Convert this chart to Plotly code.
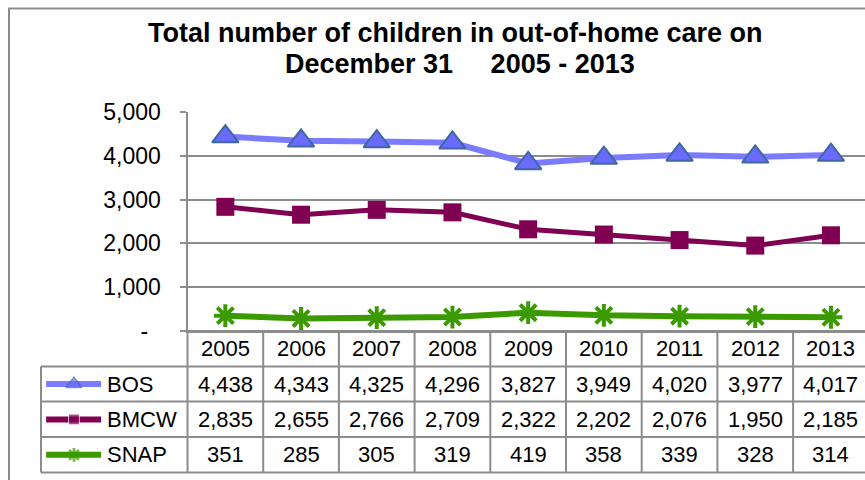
import plotly.graph_objects as go

# data
years = ["2005", "2006", "2007", "2008", "2009", "2010", "2011", "2012", "2013"]
bos = [4438, 4343, 4325, 4296, 3827, 3949, 4020, 3977, 4017]
bmcw = [2835, 2655, 2766, 2709, 2322, 2202, 2076, 1950, 2185]
snap = [351, 285, 305, 319, 419, 358, 339, 328, 314]
series_names = ["BOS", "BMCW", "SNAP"]
y_ticks = [0, 1000, 2000, 3000, 4000, 5000]
y_tick_labels = ["-\u00a0\u00a0", "1,000", "2,000", "3,000", "4,000", "5,000"]
title_lines = ["Total number of children in out-of-home care on",
               "December 31\u00a0\u00a0\u00a0\u00a0 2005 - 2013"]

W, H = 865, 480
GRID = "#8c8c8c"
FONT = "Liberation Sans, Arial, sans-serif"


def px(x):
    return x / W


def py(y):
    return 1 - y / H


styles = {
    "BOS": dict(line=dict(color="#7b7bff", width=6),
                marker=dict(symbol="triangle-up", size=23, color="#6a6aff",
                            line=dict(color="#3f67a0", width=2))),
    "BMCW": dict(line=dict(color="#800052", width=5),
                 marker=dict(symbol="square", size=18, color="#800052")),
    "SNAP": dict(line=dict(color="#3a9a00", width=6),
                 marker=dict(symbol="asterisk-open", size=19, color="#3a9a00",
                             line=dict(color="#3a9a00", width=4))),
}
values = {"BOS": bos, "BMCW": bmcw, "SNAP": snap}

fig = go.Figure()

# main lines
for name in series_names:
    fig.add_trace(go.Scatter(x=years, y=values[name], mode="lines+markers",
                             name=name, showlegend=False, cliponaxis=False,
                             **styles[name]))

# legend keys in the table's first column
for row, name in enumerate(series_names, start=1):
    st = styles[name]
    mk = dict(st["marker"])
    mk["size"] = [0, mk["size"] * 0.6, 0]
    if "line" in mk:
        mk["line"] = dict(mk["line"], width=mk["line"]["width"] * 0.7)
    fig.add_trace(go.Scatter(x=[0.035, 0.225, 0.41], y=[row + 0.5] * 3,
                             mode="lines+markers", xaxis="x3", yaxis="y2",
                             showlegend=False, hoverinfo="skip",
                             line=dict(color=st["line"]["color"], width=6),
                             marker=mk))

table_top, table_bot = 331, 472.5
row_lines = [331, 366.5, 401.5, 437, 472.5]
col_w = 75.7
ax_left = 187.5

fig.update_layout(
    template="none",
    width=W, height=H, autosize=False, showlegend=False,
    margin=dict(l=0, r=0, t=0, b=0, pad=0),
    paper_bgcolor="white", plot_bgcolor="white",
    font=dict(family=FONT, size=22, color="black"),
    xaxis=dict(domain=[px(ax_left), 1],
               range=[-0.5, -0.5 + (W - ax_left) / col_w],
               type="category", automargin=False,
               showticklabels=False, showgrid=False, zeroline=False,
               showline=True, linecolor=GRID, linewidth=2, ticks=""),
    yaxis=dict(domain=[py(331), py(112)], range=[0, 5000], automargin=False,
               tickvals=y_ticks, ticktext=y_tick_labels,
               tickfont=dict(size=23),
               showgrid=True, gridcolor=GRID, gridwidth=2, zeroline=False,
               showline=True, linecolor=GRID, linewidth=2,
               ticks="outside", ticklen=6, tickcolor=GRID, tickwidth=2,
               ticklabelstandoff=14),
    xaxis3=dict(domain=[px(41), px(ax_left)], range=[0, 1], visible=False,
                anchor="y2", automargin=False),
    yaxis2=dict(domain=[py(table_bot), py(table_top)], range=[4, 0],
                visible=False, anchor="x3", automargin=False),
)

shapes = []
# outer chart border
shapes.append(dict(type="rect", xref="paper", yref="paper", x0=px(9), x1=1.05,
                   y0=-0.05, y1=py(8.5), line=dict(color=GRID, width=2)))
# table horizontal lines
for i, yy in enumerate(row_lines):
    x0 = px(ax_left) if i == 0 else px(41)
    shapes.append(dict(type="line", xref="paper", yref="paper", x0=x0, x1=1,
                       y0=py(yy), y1=py(yy), line=dict(color=GRID, width=2)))
# table vertical lines
shapes.append(dict(type="line", xref="paper", yref="paper", x0=px(41), x1=px(41),
                   y0=py(row_lines[1]), y1=py(table_bot), line=dict(color=GRID, width=2)))
shapes.append(dict(type="line", xref="paper", yref="paper", x0=px(ax_left), x1=px(ax_left),
                   y0=py(table_top), y1=py(table_bot), line=dict(color=GRID, width=2)))
for i in range(len(years)):
    shapes.append(dict(type="line", xref="x", yref="paper", x0=i + 0.5, x1=i + 0.5,
                       y0=py(table_top), y1=py(table_bot), line=dict(color=GRID, width=2)))
fig.update_layout(shapes=shapes)

ann = []
# title, two lines
for k, (txt, yc) in enumerate(zip(title_lines, [33, 64])):
    ann.append(dict(x=px(456 if k == 0 else 460), y=py(yc), xref="paper", yref="paper",
                    text=txt, showarrow=False, xanchor="center", yanchor="middle",
                    font=dict(family=FONT, size=27, color="black", weight="bold")))
# table text
for i, yr in enumerate(years):
    ann.append(dict(x=i, y=0.5, xref="x", yref="y2", text=yr, showarrow=False))
for row, name in enumerate(series_names, start=1):
    for i, v in enumerate(values[name]):
        ann.append(dict(x=i, y=row + 0.5, xref="x", yref="y2", text=f"{v:,}",
                        showarrow=False))
    ann.append(dict(x=0.44, y=row + 0.5, xref="x3", yref="y2", text=name,
                    showarrow=False, xanchor="left"))
fig.update_layout(annotations=ann)

# figure fills the whole window: no page margin, no scrollbars, no modebar
fig.write_html("out.html", config={"displayModeBar": False},
               post_script="document.body.style.margin='0';"
                           "document.body.style.overflow='hidden';")
